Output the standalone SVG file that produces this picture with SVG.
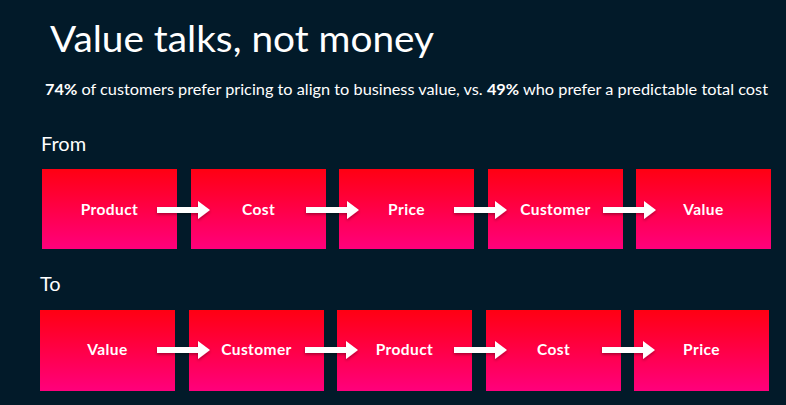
<svg xmlns="http://www.w3.org/2000/svg" width="786" height="405" viewBox="0 0 786 405">
<defs>
<linearGradient id="g" x1="0" y1="0" x2="0" y2="1">
<stop offset="0" stop-color="#ff0012"/>
<stop offset="1" stop-color="#ff007c"/>
</linearGradient>
<filter id="sh" x="-20%" y="-50%" width="140%" height="200%">
<feDropShadow dx="0" dy="1.5" stdDeviation="1.5" flood-color="#000" flood-opacity="0.35"/>
</filter>
<path id="arr" d="M0,-3 H41 V-9 L53,0 L41,9 V3 H0 Z" fill="#fff" filter="url(#sh)"/>
</defs>
<style>
.box{fill:url(#g)}
.lbl{font-family:Lato,"Open Sans","Liberation Sans",sans-serif;font-weight:bold;font-size:15.5px;letter-spacing:0.4px;fill:#fff;text-anchor:middle}
.t{font-family:Lato,"Open Sans","Liberation Sans",sans-serif;fill:#fff}
</style>
<rect width="786" height="405" fill="#021a29"/>
<text class="t" x="50" y="52" font-size="37" textLength="384" lengthAdjust="spacingAndGlyphs">Value talks, not money</text>
<text class="t" x="45" y="95" font-size="15" fill="#eef0f2" textLength="723" lengthAdjust="spacingAndGlyphs"><tspan font-weight="bold" fill="#fff">74%</tspan> of customers prefer pricing to align to business value, vs. <tspan font-weight="bold" fill="#fff">49%</tspan> who prefer a predictable total cost</text>
<text class="t" x="41" y="151" font-size="20" fill="#dfe3e6">From</text>
<text class="t" x="40" y="291" font-size="20" fill="#dfe3e6">To</text>
<g id="from-product"><rect class="box" x="42" y="169" width="135" height="80"/><text class="lbl" x="109.5" y="215">Product</text></g>
<g id="from-cost"><rect class="box" x="191" y="169" width="135" height="80"/><text class="lbl" x="258.5" y="215">Cost</text></g>
<g id="from-price"><rect class="box" x="339" y="169" width="135" height="80"/><text class="lbl" x="406.5" y="215">Price</text></g>
<g id="from-customer"><rect class="box" x="488" y="169" width="135" height="80"/><text class="lbl" x="555.5" y="215">Customer</text></g>
<g id="from-value"><rect class="box" x="636" y="169" width="135" height="80"/><text class="lbl" x="703.5" y="215">Value</text></g>
<g id="to-value"><rect class="box" x="40" y="310" width="135" height="81"/><text class="lbl" x="107.5" y="355">Value</text></g>
<g id="to-customer"><rect class="box" x="189" y="310" width="135" height="81"/><text class="lbl" x="256.5" y="355">Customer</text></g>
<g id="to-product"><rect class="box" x="337" y="310" width="135" height="81"/><text class="lbl" x="404.5" y="355">Product</text></g>
<g id="to-cost"><rect class="box" x="486" y="310" width="135" height="81"/><text class="lbl" x="553.5" y="355">Cost</text></g>
<g id="to-price"><rect class="box" x="634" y="310" width="135" height="81"/><text class="lbl" x="701.5" y="355">Price</text></g>
<g id="connectors">
<use href="#arr" x="157" y="210"/>
<use href="#arr" x="306" y="210"/>
<use href="#arr" x="454" y="210"/>
<use href="#arr" x="603" y="210"/>
<use href="#arr" x="157" y="350"/>
<use href="#arr" x="305" y="350"/>
<use href="#arr" x="454" y="350"/>
<use href="#arr" x="602" y="350"/>
</g>
</svg>
